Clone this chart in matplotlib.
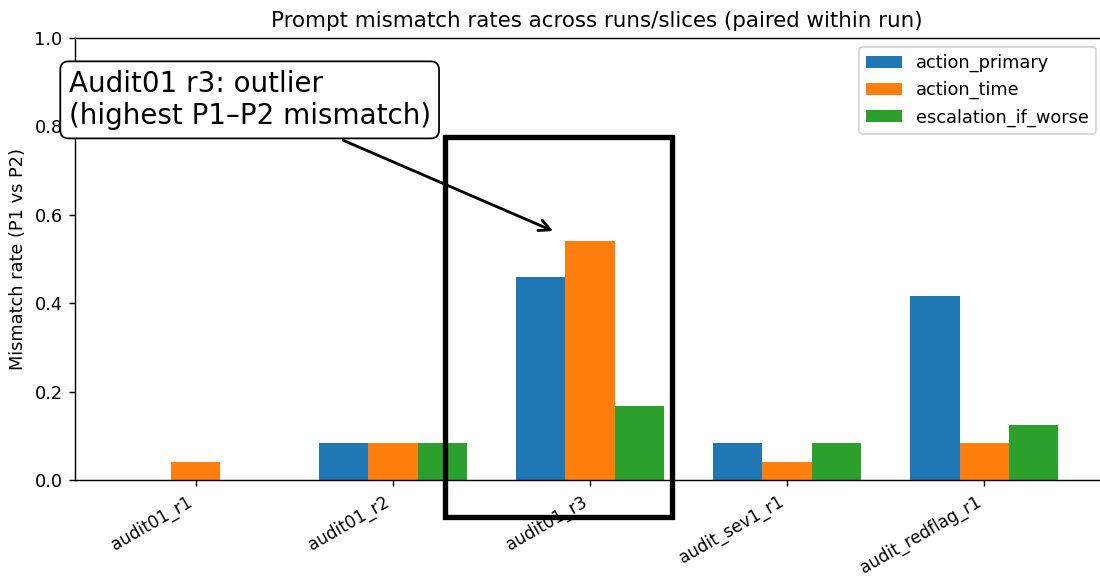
import numpy as np
import matplotlib
matplotlib.use("Agg")
import matplotlib.pyplot as plt
from matplotlib.patches import Rectangle

# Per-run prompt mismatch rates (P1 vs P2)
runs = ["audit01_r1", "audit01_r2", "audit01_r3", "audit_sev1_r1", "audit_redflag_r1"]
action_primary = [0.0, 2 / 24, 11 / 24, 2 / 24, 10 / 24]
action_time = [1 / 24, 2 / 24, 13 / 24, 1 / 24, 2 / 24]
escalation_if_worse = [0.0, 2 / 24, 4 / 24, 2 / 24, 3 / 24]

series = [
    ("action_primary", action_primary),
    ("action_time", action_time),
    ("escalation_if_worse", escalation_if_worse),
]

DPI = 128
fig = plt.figure(figsize=(1100 / DPI, 578 / DPI), dpi=DPI)
ax = fig.add_axes([75 / 1100, 98 / 578, 1030 / 1100, 442 / 578])

x = np.arange(len(runs))
width = 0.25
for i, (name, vals) in enumerate(series):
    ax.bar(x + (i - 1) * width, vals, width, label=name)

ax.set_xticks(x)
ax.set_xticklabels(runs, rotation=30, ha="right", fontsize=9.5)
ax.set_ylim(0, 1.0)
ax.set_ylabel("Mismatch rate (P1 vs P2)")
ax.set_title("Prompt mismatch rates across runs/slices (paired within run)",
             x=0.507)
ax.legend(loc="upper right")

# Highlight the outlier run
ax.add_patch(Rectangle((1.265, -0.084), 1.15, 0.86, fill=False,
                       edgecolor="black", linewidth=3, clip_on=False, zorder=5))
ax.annotate("Audit01 r3: outlier\n(highest P1–P2 mismatch)",
            xy=(1.83, 0.56), xytext=(-0.645, 0.86),
            ha="left", va="center", multialignment="left", fontsize=15.6,
            bbox=dict(boxstyle="round,pad=0.3", fc="white", ec="black", lw=1),
            arrowprops=dict(arrowstyle="->", lw=1.6, color="black"),
            zorder=6)

fig.savefig("out.png", dpi=DPI)
